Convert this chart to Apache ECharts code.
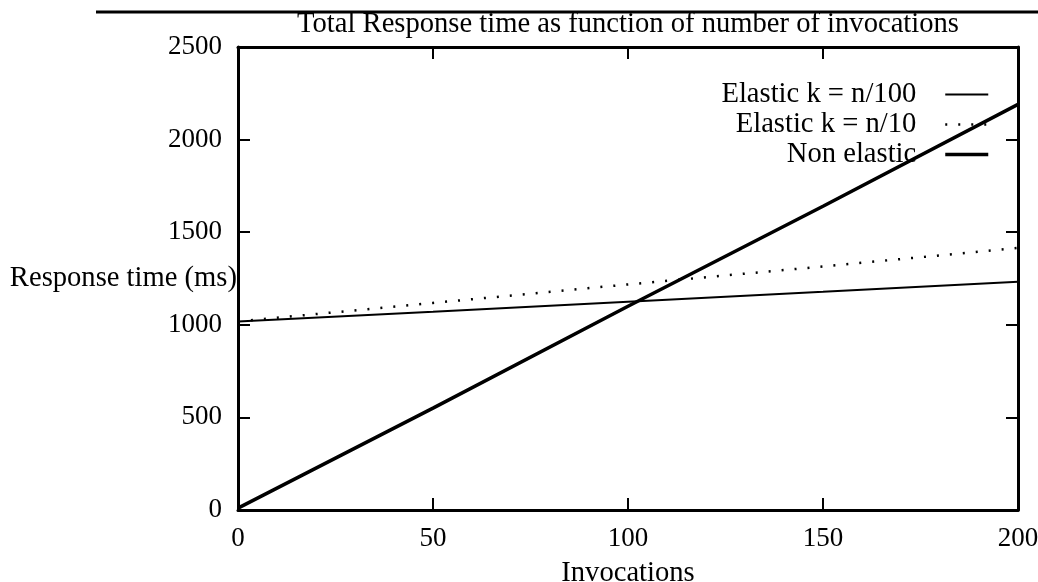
<!DOCTYPE html>
<html>
<head>
<meta charset="utf-8">
<script src="https://cdn.jsdelivr.net/npm/echarts@6/dist/echarts.min.js"></script>
<style>
  html, body { margin: 0; padding: 0; background: #fff; }
  #chart { width: 1038px; height: 582px; }
</style>
</head>
<body>
<div id="chart"></div>
<script>
// values
const invocations = [0, 50, 100, 150, 200];
const elasticN100 = [1018, 1070, 1125, 1178, 1232];
const elasticN10 = [1018, 1118, 1218, 1315, 1415];
const nonElastic = [10, 550, 1100, 1640, 2190];
const xTicks = [0, 50, 100, 150, 200];
const yTicks = [0, 500, 1000, 1500, 2000, 2500];

const font = "Liberation Serif";
const fontSize = 28.6;
const tickFontSize = 27;

function pairs(ys) {
  return invocations.map((x, i) => [x, ys[i]]);
}

var chart = echarts.init(document.getElementById("chart"));

const tick = { show: true, inside: true, length: 12, lineStyle: { color: "#000", width: 2 } };
const axisLine = { show: true, onZero: false, lineStyle: { color: "#000", width: 3 } };

const option = {
  animation: false,
  backgroundColor: "#fff",
  textStyle: { fontFamily: font, color: "#000" },
  grid: { left: 238, right: 20, top: 47, bottom: 72, containLabel: false, outerBoundsMode: "none" },
  graphic: [
    {
      type: "line",
      shape: { x1: 96, y1: 12, x2: 1038, y2: 12 },
      style: { stroke: "#000", lineWidth: 3 },
    },
    {
      type: "text",
      x: 628,
      y: 24,
      style: {
        text: "Total Response time as function of number of invocations",
        font: fontSize + "px '" + font + "'",
        fill: "#000",
        align: "center",
        verticalAlign: "middle",
      },
    },
    {
      type: "text",
      x: 237,
      y: 278,
      style: {
        text: "Response time (ms)",
        font: fontSize + "px '" + font + "'",
        fill: "#000",
        align: "right",
        verticalAlign: "middle",
      },
    },
  ],
  legend: {
    orient: "vertical",
    right: 43,
    top: 75,
    align: "right",
    itemWidth: 43,
    itemHeight: 14,
    itemGap: 1,
    data: [
      { name: "Elastic k = n/100", lineStyle: { width: 2 } },
      { name: "Elastic k = n/10", lineStyle: { width: 2.5 } },
      { name: "Non elastic", lineStyle: { width: 3.5 } },
    ],
    itemStyle: { color: "rgba(0,0,0,0)", borderColor: "rgba(0,0,0,0)", borderWidth: 0, opacity: 0 },
    textStyle: { fontFamily: font, fontSize: fontSize, color: "#000", padding: [0, 24, 0, 0] },
  },
  xAxis: [
    {
      type: "value",
      min: 0,
      max: 200,
      interval: 50,
      name: "Invocations",
      nameLocation: "middle",
      nameGap: 49,
      nameTextStyle: { fontFamily: font, fontSize: fontSize, color: "#000" },
      axisLine: axisLine,
      axisTick: tick,
      axisLabel: {
        margin: 15,
        fontFamily: font,
        fontSize: tickFontSize,
        color: "#000",
        formatter: (v) => (xTicks.includes(v) ? String(v) : ""),
      },
      splitLine: { show: false },
    },
    {
      type: "value",
      position: "top",
      min: 0,
      max: 200,
      interval: 50,
      axisLine: axisLine,
      axisTick: tick,
      axisLabel: { show: false },
      splitLine: { show: false },
    },
  ],
  yAxis: [
    {
      type: "value",
      min: 0,
      max: 2500,
      interval: 500,
      axisLine: axisLine,
      axisTick: tick,
      axisLabel: {
        margin: 16,
        fontFamily: font,
        fontSize: tickFontSize,
        color: "#000",
        formatter: (v) => (yTicks.includes(v) ? String(v) : ""),
      },
      splitLine: { show: false },
    },
    {
      type: "value",
      position: "right",
      min: 0,
      max: 2500,
      interval: 500,
      axisLine: axisLine,
      axisTick: tick,
      axisLabel: { show: false },
      splitLine: { show: false },
    },
  ],
  series: [
    {
      name: "Elastic k = n/100",
      type: "line",
      data: pairs(elasticN100),
      showSymbol: false,
      symbol: "none",
      lineStyle: { color: "#000", width: 2 },
      itemStyle: { color: "#000" },
    },
    {
      name: "Elastic k = n/10",
      type: "line",
      data: pairs(elasticN10),
      showSymbol: false,
      symbol: "none",
      lineStyle: { color: "#000", width: 2.5, type: [2, 11] },
      itemStyle: { color: "#000" },
    },
    {
      name: "Non elastic",
      type: "line",
      data: pairs(nonElastic),
      showSymbol: false,
      symbol: "none",
      lineStyle: { color: "#000", width: 3.5 },
      itemStyle: { color: "#000" },
    },
  ],
};
chart.setOption(option);
</script>
</body>
</html>
